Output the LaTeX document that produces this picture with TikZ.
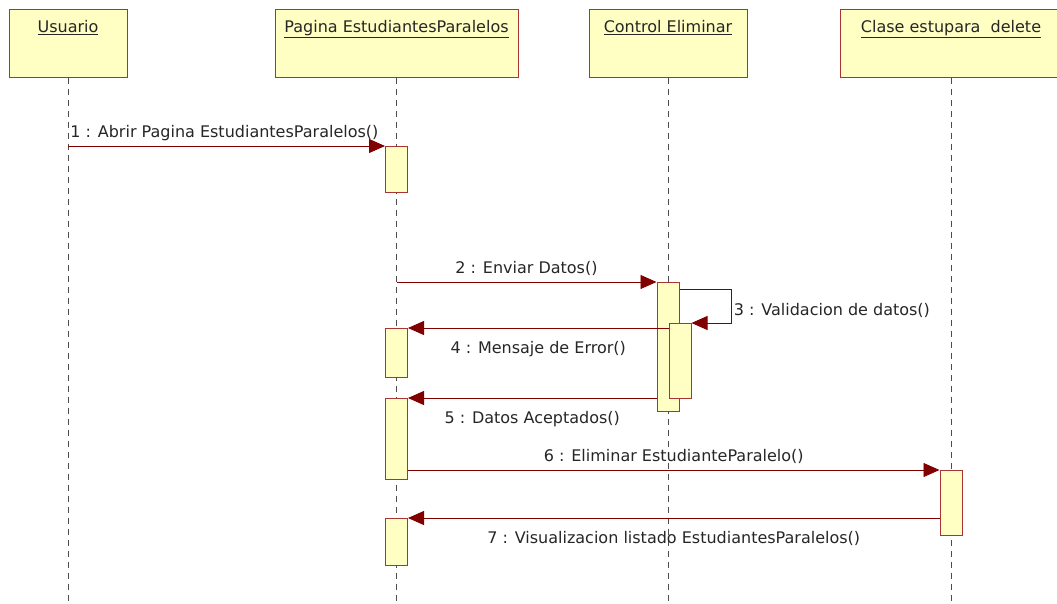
\documentclass[tikz,border=0pt]{standalone}
\usepackage{fontspec}
\setmainfont{DejaVu Sans}
\usetikzlibrary{positioning,arrows.meta}

\definecolor{boxfill}{RGB}{255,255,196}
\definecolor{boxline}{RGB}{168,52,52}
\definecolor{msgred}{RGB}{128,0,0}

\begin{document}
\begin{tikzpicture}[x=1pt, y=-1pt,
                    font=\fontsize{16}{19}\selectfont,
                    participant/.style={draw=boxline, fill=boxfill, line width=1pt, minimum height=68pt, inner sep=0pt},
                    partname/.style={anchor=base, inner sep=0pt, text=black!85},
                    lifeline/.style={draw=black!70, line width=0.9pt, dash pattern=on 6pt off 5pt},
                    activation/.style={draw=boxline, fill=boxfill, line width=1pt, minimum width=22pt, inner sep=0pt, anchor=north},
                    msg/.style={draw=msgred, line width=0.9pt, -{Triangle[length=16pt, width=14pt]}},
                    msglabel/.style={anchor=base, inner sep=0pt, text=black!85},
                ]
    \useasboundingbox (0,0) rectangle (1057,603);
    \coordinate (bottom) at (0,603);

    % participants
    \node[participant, minimum width=118pt] (usr) at (68,43) {};
    \node[participant, minimum width=243pt, right=147pt of usr] (pag) {};
    \node[participant, minimum width=158pt, right=70pt of pag] (ctl) {};
    \node[participant, minimum width=222pt, right=92pt of ctl] (cls) {};

    \node[partname] (usrT) at ([yshift=-24pt]usr.north) {\underline{Usuario}};
    \node[partname] (pagT) at ([yshift=-24pt]pag.north) {\underline{Pagina EstudiantesParalelos}};
    \node[partname] (ctlT) at ([yshift=-24pt]ctl.north) {\underline{Control Eliminar}};
    \node[partname] (clsT) at ([yshift=-24pt]cls.north) {\underline{Clase estupara\ \ delete}};

    % lifelines
    \draw[lifeline] (usr.south) -- (usr.south |- bottom);
    \draw[lifeline] (pag.south) -- (pag.south |- bottom);
    \draw[lifeline] (ctl.south) -- (ctl.south |- bottom);
    \draw[lifeline] (cls.south) -- (cls.south |- bottom);

    % activations
    \node[activation, minimum height=46pt] (act1) at (pag.south |- 0,146) {};
    \node[activation, minimum height=129pt] (actC) at (ctl.south |- 0,282) {};
    \node[activation, minimum height=75pt] (actV) at ([xshift=12pt]ctl.south |- 0,323) {};
    \node[activation, minimum height=49pt] (act2) at (pag.south |- 0,328) {};
    \node[activation, minimum height=81pt] (act3) at (pag.south |- 0,398) {};
    \node[activation, minimum height=65pt] (actD) at (cls.south |- 0,470) {};
    \node[activation, minimum height=47pt] (act4) at (pag.south |- 0,518) {};

    % messages
    \draw[msg] (usr.south |- act1.north) -- (act1.north west)
        node[msglabel, pos=0, anchor=base west, xshift=2pt, yshift=9pt] {1 : Abrir Pagina EstudiantesParalelos()};
    \draw[msg] (pag.south |- actC.north) -- (actC.north west)
        node[msglabel, midway, yshift=9pt] {2 : Enviar Datos()};
    \draw[msg] ([yshift=-7pt]actC.north east) -- ++(52,0) |- (actV.north east)
        node[msglabel, pos=0.25, anchor=base west, xshift=2pt, yshift=-9pt] {3 : Validacion de datos()};
    \draw[msg] (actV.west |- act2.north) -- (act2.north east)
        node[msglabel, midway, yshift=-25pt] {4 : Mensaje de Error()};
    \draw[msg] (actC.west |- act3.north) -- (act3.north east)
        node[msglabel, midway, yshift=-25pt] {5 : Datos Aceptados()};
    \draw[msg] (act3.east |- actD.north) -- (actD.north west)
        node[msglabel, midway, yshift=9pt] {6 : Eliminar EstudianteParalelo()};
    \draw[msg] (actD.west |- act4.north) -- (act4.north east)
        node[msglabel, midway, yshift=-25pt] {7 : Visualizacion listado EstudiantesParalelos()};
\end{tikzpicture}
\end{document}
